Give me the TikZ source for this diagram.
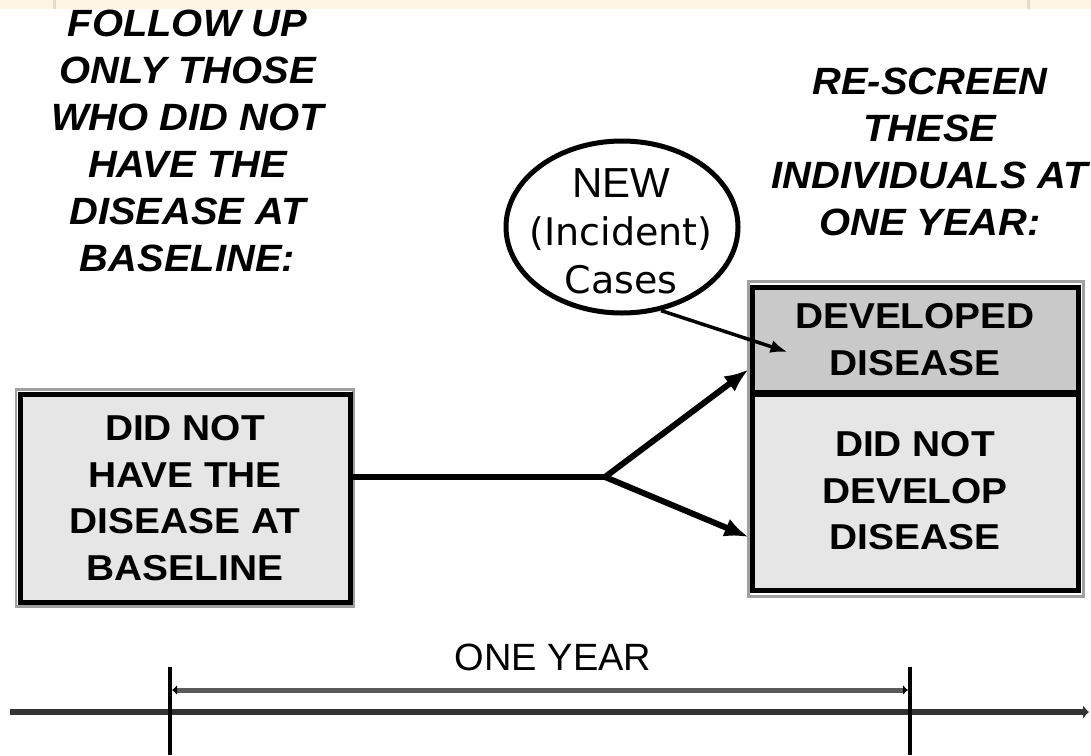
\documentclass[tikz,border=0pt]{standalone}
\usepackage{fontspec}
\setmainfont{Liberation Sans}
\newfontfamily\headfont[FakeStretch=1.05]{Liberation Sans}
\newfontfamily\boxfont[FakeStretch=1.08]{Liberation Sans}
\newfontfamily\comicfont{DejaVu Sans}
\usetikzlibrary{arrows.meta,calc,shapes.geometric}
\definecolor{cream}{HTML}{FDF5E4}
\definecolor{creamline}{HTML}{E4DBC9}
\definecolor{lightfill}{HTML}{E6E6E6}
\definecolor{darkfill}{HTML}{C9C9C9}
\definecolor{shadowgray}{HTML}{A0A0A0}
\definecolor{axisgray}{HTML}{333333}
\definecolor{dimgray}{HTML}{5A5A5A}
\tikzset{
  heading/.style={anchor=north, inner sep=0pt, align=center,
    font=\headfont\bfseries\itshape\fontsize{38}{47}\selectfont},
  boxtext/.style={draw=black, line width=5pt, inner sep=0pt, align=center,
    font=\boxfont\bfseries\fontsize{36}{46.5}\selectfont},
  shadowline/.style={draw=shadowgray, line width=2.5pt},
  thickline/.style={line width=6pt, black},
  thickarrow/.style={line width=6pt, black, -{Latex[length=24pt,width=19pt]}},
  thinarrow/.style={line width=3.5pt, black, -{Latex[length=17pt,width=13pt]}},
  tick/.style={line width=3.5pt, black},
}
\begin{document}
\begin{tikzpicture}[x=1pt,y=-1pt]
\useasboundingbox (0,0) rectangle (1091,755);
\fill[white] (0,0) rectangle (1091,755);
% top band
\fill[cream] (0,0) rectangle (1091,9);
\draw[creamline, line width=3pt] (54,0) -- (54,9);
\draw[creamline, line width=3pt] (1028,0) -- (1028,9);

% headings
\node[heading] (lefthead) at (187.5,10) {FOLLOW UP\\ONLY THOSE\\WHO DID NOT\\HAVE THE\\DISEASE AT\\BASELINE:};
\node[heading] (righthead) at (930,68) {RE-SCREEN\\THESE\\INDIVIDUALS AT\\ONE YEAR:};

% shadows
\draw[shadowline] (16,389.5) rectangle (353.5,606.5);
\draw[shadowline] (748.5,281.5) rectangle (1083.5,596.5);

% boxes
\node[boxtext, fill=lightfill, minimum width=330pt, minimum height=208pt] (base) at (185,498)
  {DID NOT\\HAVE THE\\DISEASE AT\\BASELINE};
\node[boxtext, fill=darkfill, minimum width=326pt, minimum height=105pt] (dev) at (915,339.5)
  {DEVELOPED\\DISEASE};
\node[boxtext, fill=lightfill, minimum width=326pt, minimum height=198pt] (nodev) at (915,491)
  {DID NOT\\DEVELOP\\DISEASE};
\draw[line width=5pt] (dev.south west) -- (dev.south east);

% incident cases ellipse
\node[ellipse, draw=black, line width=5pt, minimum width=232pt, minimum height=172pt, inner sep=0pt] (inc) at (622,227) {};
\node[inner sep=0pt, align=center, font=\fontsize{38}{48}\selectfont] (inctext) at (621,231)
  {{\fontsize{42}{48}\selectfont NEW}\\{\comicfont (Incident)}\\{\comicfont Cases}};

% connectors
\coordinate (br) at (605,477);
\draw[thickline] ($(base.east)+(0,-21)$) -- (br);
\draw[thickarrow] (br) -- ($(dev.south west)+(-1,-25)$);
\draw[thickarrow] (br) -- ($(nodev.west)+(-1,46)$);
\draw[thinarrow] (inc.-65) -- ($(dev.west)+(38,12.5)$);

% timeline
\coordinate (t0) at (10,712);
\coordinate (t1) at (1089,712);
\draw[line width=6pt, axisgray, -{Latex[length=6pt,width=14pt]}] (t0) -- (t1);
\coordinate (a0) at (170,667);
\coordinate (a1) at (170,755);
\coordinate (b0) at (910,667);
\coordinate (b1) at (910,755);
\draw[tick] (a0) -- (a1);
\draw[tick] (b0) -- (b1);
\coordinate (d0) at (172,690);
\coordinate (d1) at (908,690);
\draw[line width=5pt, dimgray, {Latex[length=5pt,width=10pt,black]}-{Latex[length=5pt,width=10pt,black]}] (d0) -- (d1);
\node[inner sep=0pt, font=\fontsize{38}{46}\selectfont] (oneyear) at (553,657) {ONE YEAR};
\end{tikzpicture}
\end{document}
